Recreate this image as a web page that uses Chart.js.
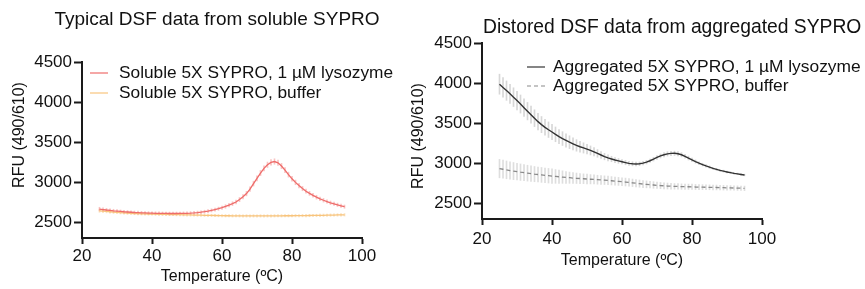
<!DOCTYPE html>
<html>
<head>
<meta charset="utf-8">
<script src="https://cdn.jsdelivr.net/npm/chart.js@4.4.1/dist/chart.umd.min.js"></script>
<style>
html,body{margin:0;padding:0;background:#fff;}
#wrap{position:relative;width:865px;height:289px;overflow:hidden;background:#fff;}
#c1{position:absolute;left:0;top:0;width:400px;height:289px;}
#c2{position:absolute;left:400px;top:0;width:465px;height:289px;}
</style>
</head>
<body>
<div id="wrap">
<canvas id="c1" width="400" height="289"></canvas>
<canvas id="c2" width="465" height="289"></canvas>
</div>
<script>
const temperatures = [
 25,26,27,28,29,30,31,32,33,34,
 35,36,37,38,39,40,41,42,43,44,
 45,46,47,48,49,50,51,52,53,54,
 55,56,57,58,59,60,61,62,63,64,
 65,66,67,68,69,70,71,72,73,74,
 75,76,77,78,79,80,81,82,83,84,
 85,86,87,88,89,90,91,92,93,94,
 95];
const solubleLysozyme = [
 2662,2656,2650,2645,2640,2636,2632,2628,2625,2622,
 2619,2617,2615,2613,2611,2610,2609,2608,2607,2607,
 2606,2606,2606,2607,2608,2609,2611,2614,2618,2623,
 2629,2636,2645,2655,2666,2679,2694,2711,2729,2750,
 2780,2815,2855,2910,2980,3045,3112,3170,3215,3245,
 3256,3240,3200,3148,3092,3040,2995,2955,2918,2885,
 2858,2833,2810,2790,2772,2756,2740,2727,2715,2703,
 2692];
const solubleLysozymeSD = [
 22,21,20,20,19,19,18,18,18,18,
 18,18,18,18,18,18,18,18,18,18,
 18,18,18,18,18,18,18,18,18,18,
 18,19,19,20,20,21,22,23,24,25,
 26,27,28,29,30,31,32,33,34,34,
 34,34,33,32,31,30,29,28,27,26,
 25,24,24,23,23,22,22,21,21,20,
 20];
const solubleBuffer = [
 2640,2636,2632,2628,2624,2620,2617,2614,2611,2608,
 2606,2604,2602,2601,2600,2599,2598,2597,2596,2595,
 2594,2593,2592,2591,2590,2589,2588,2587,2586,2585,
 2584,2583,2582,2581,2580,2579,2578,2578,2577,2577,
 2577,2576,2576,2576,2576,2576,2576,2576,2576,2576,
 2577,2577,2577,2578,2578,2578,2579,2579,2580,2580,
 2581,2582,2582,2583,2584,2585,2586,2587,2588,2589,
 2590];
const solubleBufferSD = [
 18,18,17,17,17,16,16,16,16,15,
 15,15,15,15,15,15,15,15,15,15,
 15,15,15,15,15,15,15,15,15,15,
 15,15,15,15,15,15,15,15,15,15,
 15,15,15,15,15,15,15,15,15,15,
 15,15,15,15,15,15,15,15,15,15,
 15,15,15,15,15,15,15,15,15,15,
 15];
const aggregatedLysozyme = [
 3985,3945,3905,3865,3823,3780,3737,3692,3648,3604,
 3560,3517,3480,3446,3416,3388,3358,3330,3305,3282,
 3260,3240,3220,3203,3188,3173,3157,3140,3120,3100,
 3080,3064,3050,3037,3026,3015,3005,2996,2990,2988,
 2990,2998,3010,3028,3048,3070,3088,3103,3114,3120,
 3121,3116,3103,3084,3062,3040,3018,2998,2980,2963,
 2948,2933,2920,2908,2898,2888,2879,2871,2864,2857,
 2850];
const aggregatedLysozymeSD = [
 125,123,121,119,117,115,113,111,109,107,
 105,103,101,99,97,95,92,89,86,83,
 80,76,72,68,64,60,56,52,48,44,
 40,37,34,32,30,28,27,26,25,24,
 23,22,22,22,23,24,25,26,27,27,
 27,27,26,25,24,22,20,18,17,16,
 15,14,13,13,12,12,11,11,10,10,
 10];
const aggregatedBuffer = [
 2930,2922,2914,2906,2899,2892,2885,2879,2873,2867,
 2861,2856,2851,2846,2841,2836,2832,2828,2824,2820,
 2816,2812,2809,2806,2803,2800,2797,2794,2791,2788,
 2785,2782,2778,2774,2770,2766,2762,2757,2752,2747,
 2742,2737,2733,2729,2725,2721,2718,2715,2712,2710,
 2708,2707,2705,2704,2703,2702,2700,2699,2698,2697,
 2696,2695,2694,2692,2691,2690,2689,2687,2686,2685,
 2683];
const aggregatedBufferSD = [
 115,113,111,109,107,105,103,101,99,97,
 95,94,93,92,91,90,86,82,78,74,
 70,67,65,63,61,60,58,57,56,55,
 54,53,52,51,50,50,49,48,47,46,
 45,44,43,42,41,40,39,38,37,36,
 35,35,34,34,33,33,32,32,31,31,
 30,30,30,29,29,29,28,28,28,28,
 28];

const xTickValues = [20, 40, 60, 80, 100];
const yTickValues = [2500, 3000, 3500, 4000, 4500];
const xRange = [20, 100];
const yRange = [2300, 4500];

const titleLeft = 'Typical DSF data from soluble SYPRO';
const titleRight = 'Distored DSF data from aggregated SYPRO';
const xTitle = 'Temperature (ºC)';
const yTitle = 'RFU (490/610)';
const labelsLeft = ['Soluble 5X SYPRO, 1 µM lysozyme', 'Soluble 5X SYPRO, buffer'];
const labelsRight = ['Aggregated 5X SYPRO, 1 µM lysozyme', 'Aggregated 5X SYPRO, buffer'];

const FONT = '"Liberation Sans", Arial, Helvetica, sans-serif';
const INK = '#111111';
const AXIS = '#1a1a1a';
Chart.defaults.font.family = FONT;
Chart.defaults.color = INK;

const toPoints = vals => vals.map((v, i) => ({x: temperatures[i], y: v}));
const toErrors = (vals, sd) => vals.map((v, i) => ({x: temperatures[i], y: [v - sd[i], v + sd[i]]}));

function buildChart(canvas, spec) {
  const datasets = [];
  spec.series.forEach(s => datasets.push({
    type: 'line', label: s.label, data: toPoints(s.values),
    borderColor: s.color, borderWidth: s.width || 1.3, borderDash: s.dash || [],
    pointRadius: 0, pointHoverRadius: 0, tension: 0, fill: false, order: 0
  }));
  spec.series.forEach(s => datasets.push({
    type: 'bar', label: '', data: toErrors(s.values, s.sd),
    backgroundColor: s.errColor, borderWidth: 0, barThickness: 1,
    grouped: false, order: 1
  }));

  const decor = {
    id: 'decor',
    afterDraw(chart) {
      const ctx = chart.ctx;
      const a = chart.chartArea;
      const xs = chart.scales.x, ys = chart.scales.y;
      ctx.save();
      // axis lines (drawn from the scales' own extent)
      ctx.strokeStyle = AXIS;
      ctx.lineWidth = 2;
      ctx.beginPath();
      ctx.moveTo(a.left, ys.getPixelForValue(yRange[1]) - 1);
      ctx.lineTo(a.left, a.bottom + 1);
      ctx.moveTo(a.left - 1, a.bottom);
      ctx.lineTo(xs.getPixelForValue(xRange[1]) + 1, a.bottom);
      ctx.stroke();
      // chart title
      ctx.fillStyle = INK;
      ctx.textBaseline = 'middle';
      ctx.font = spec.titleSize + 'px ' + FONT;
      ctx.textAlign = spec.titleAlign;
      ctx.fillText(spec.title, spec.titleX, spec.titleY);
      // y axis title
      ctx.save();
      ctx.translate(spec.yTitleX, spec.yTitleY);
      ctx.rotate(-Math.PI / 2);
      ctx.textAlign = 'center';
      ctx.font = '16px ' + FONT;
      ctx.fillText(yTitle, 0, 0);
      ctx.restore();
      // legend
      ctx.font = spec.legendSize + 'px ' + FONT;
      ctx.textAlign = 'left';
      chart.data.datasets.filter(d => d.type === 'line').forEach((d, i) => {
        const y = spec.legendY[i];
        ctx.strokeStyle = d.borderColor;
        ctx.lineWidth = 1.2;
        ctx.setLineDash(d.borderDash || []);
        ctx.beginPath();
        ctx.moveTo(spec.legendX1, y);
        ctx.lineTo(spec.legendX2, y);
        ctx.stroke();
        ctx.setLineDash([]);
        ctx.fillText(d.label, spec.legendTextX, y);
      });
      ctx.restore();
    }
  };

  return new Chart(canvas, {
    type: 'line',
    data: {datasets},
    plugins: [decor],
    options: {
      responsive: false,
      animation: false,
      devicePixelRatio: 1,
      layout: {padding: {left: 0, top: spec.top, right: spec.right, bottom: 0}},
      plugins: {legend: {display: false}, tooltip: {enabled: false}, title: {display: false}},
      scales: {
        x: {
          type: 'linear', position: 'bottom', min: xRange[0], max: xRange[1], offset: false,
          afterBuildTicks: s => { s.ticks = xTickValues.map(v => ({value: v})); },
          afterFit: s => { s.height = spec.xHeight; },
          ticks: {font: {size: 17}, color: INK, padding: spec.xTickPad, callback: v => String(v), maxRotation: 0},
          grid: {display: true, offset: false, drawOnChartArea: false, drawTicks: true, tickLength: 6, tickColor: AXIS, tickWidth: 2},
          border: {display: true, color: AXIS, width: 2},
          title: {display: true, text: xTitle, font: {size: 16}, color: INK, padding: {top: 0, bottom: spec.xTitlePad}}
        },
        y: {
          type: 'linear', position: 'left', min: yRange[0], max: yRange[1], offset: false,
          afterBuildTicks: s => { s.ticks = yTickValues.map(v => ({value: v})); },
          afterFit: s => { s.width = spec.yWidth; },
          ticks: {font: {size: 17}, color: INK, padding: 2, callback: v => String(v)},
          grid: {display: true, offset: false, drawOnChartArea: false, drawTicks: true, tickLength: 8, tickColor: AXIS, tickWidth: 2},
          border: {display: true, color: AXIS, width: 2},
          title: {display: false, text: yTitle}
        }
      }
    }
  });
}

buildChart(document.getElementById('c1'), {
  top: 62, right: 38, yWidth: 82, xHeight: 51,
  xTickPad: 2, xTitlePad: 2.4,
  yTitleX: 20, yTitleY: 135,
  title: titleLeft, titleAlign: 'center', titleX: 217, titleY: 20, titleSize: 19, legendSize: 17.3,
  legendX1: 90, legendX2: 108, legendTextX: 119, legendY: [73, 93],
  series: [
    {label: labelsLeft[0], values: solubleLysozyme, sd: solubleLysozymeSD, color: '#EE6C6A', errColor: 'rgba(238,108,106,0.4)'},
    {label: labelsLeft[1], values: solubleBuffer, sd: solubleBufferSD, color: '#F8C47C', errColor: 'rgba(248,196,124,0.5)'}
  ]
});

buildChart(document.getElementById('c2'), {
  top: 43, right: 103, yWidth: 82, xHeight: 70,
  xTickPad: 4, xTitlePad: 18.4,
  yTitleX: 19, yTitleY: 136,
  title: titleRight, titleAlign: 'left', titleX: 83, titleY: 28, titleSize: 19.3, legendSize: 17.4,
  legendX1: 127, legendX2: 145, legendTextX: 153, legendY: [67, 86],
  series: [
    {label: labelsRight[0], values: aggregatedLysozyme, sd: aggregatedLysozymeSD, color: '#333333', width: 1.4, errColor: 'rgba(175,175,175,0.5)'},
    {label: labelsRight[1], values: aggregatedBuffer, sd: aggregatedBufferSD, color: '#8A8A8A', dash: [4, 3], errColor: 'rgba(190,190,190,0.5)'}
  ]
});
</script>
</body>
</html>
